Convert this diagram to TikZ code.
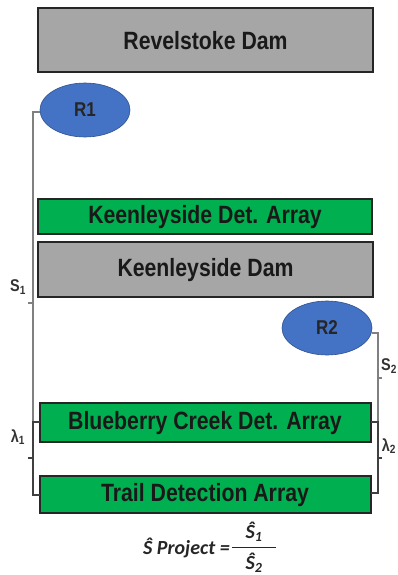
\documentclass[tikz,border=0pt]{standalone}
\usepackage{fontspec}
\setmainfont{Liberation Sans}
\newfontfamily\boxfont{Liberation Sans}[FakeStretch=0.85]
\newfontfamily\eqfont{Carlito}
\usetikzlibrary{shapes.geometric}
\definecolor{damgray}{HTML}{A6A6A6}
\definecolor{arraygreen}{HTML}{00B050}
\definecolor{resblue}{HTML}{4472C4}
\definecolor{resedge}{HTML}{2F528F}
\tikzset{
  dambox/.style={draw=black!85, line width=1.2pt, fill=damgray},
  arraybox/.style={draw=black!85, line width=1.2pt, fill=arraygreen},
  boxtext/.style={font=\boxfont\bfseries\fontsize{25}{27}\selectfont, text=black!90},
  res/.style={ellipse, draw=resedge, line width=0.6pt, fill=resblue, minimum width=90pt, minimum height=54pt, inner sep=0pt, font=\boxfont\bfseries\fontsize{20}{21}\selectfont, text=black!85},
  sbrack/.style={draw=black!50, line width=1.4pt},
  lbrack/.style={draw=black!75, line width=1.4pt},
  blabel/.style={font=\boxfont\bfseries\fontsize{17}{18}\selectfont, text=black!80, inner sep=0pt},
  eqtext/.style={font=\eqfont\bfseries\itshape\fontsize{20}{21}\selectfont, text=black!85, inner sep=0pt}
}
\begin{document}
\begin{tikzpicture}[x=1pt,y=-1pt]
\useasboundingbox (0,0) rectangle (398,575);
% boxes
\draw[dambox] (38,8) rectangle (373,72);
\node[boxtext] (rev) at (205.5,41) {Revelstoke Dam};
\draw[arraybox] (38,199) rectangle (372,234);
\node[boxtext] (kda) at (205,217) {Keenleyside Det. Array};
\draw[dambox] (38,242) rectangle (373,297);
\node[boxtext] (kd) at (205.5,270) {Keenleyside Dam};
\draw[arraybox] (40,403) rectangle (371,442);
\node[boxtext] (bca) at (205,423) {Blueberry Creek Det. Array};
\draw[arraybox] (40,476) rectangle (371,513);
\node[boxtext] (tda) at (205,495) {Trail Detection Array};
% reservoirs
\node[res] (r1) at (85,110) {R1};
\node[res] (r2) at (327,328) {R2};
% coordinates for brackets
\coordinate (s1top) at (40,112);
\coordinate (s1a) at (33,112);
\coordinate (s1b) at (33,422);
\coordinate (s1m) at (33,303);
\coordinate (s1n) at (28,303);
\coordinate (l1top) at (40,422);
\coordinate (l1a) at (33,495);
\coordinate (l1bot) at (40,495);
\coordinate (l1m) at (33,458);
\coordinate (l1n) at (28,458);
\coordinate (s2top) at (372,333);
\coordinate (s2a) at (378,333);
\coordinate (s2b) at (378,422);
\coordinate (s2m) at (378,378);
\coordinate (s2n) at (382,378);
\coordinate (l2top) at (371,422);
\coordinate (l2a) at (378,493);
\coordinate (l2bot) at (371,493);
\coordinate (l2m) at (378,458);
\coordinate (l2n) at (382,458);
% left brackets
\draw[sbrack] (s1top) -- (s1a) -- (s1b);
\draw[sbrack] (s1m) -- (s1n);
\draw[lbrack] (l1top) -- (s1b) -- (l1a) -- (l1bot);
\draw[lbrack] (l1m) -- (l1n);
% right brackets
\draw[sbrack] (s2top) -- (s2a) -- (s2b);
\draw[sbrack] (s2m) -- (s2n);
\draw[lbrack] (l2top) -- (s2b) -- (l2a) -- (l2bot);
\draw[lbrack] (l2m) -- (l2n);
% labels
\node[blabel] (s1lab) at (18,287) {S\textsubscript{1}};
\node[blabel] (l1lab) at (18,437) {λ\textsubscript{1}};
\node[blabel] (s2lab) at (389,366) {S\textsubscript{2}};
\node[blabel] (l2lab) at (389,446) {λ\textsubscript{2}};
% formula
\node[eqtext, anchor=east] (eq) at (230,548) {Ŝ Project =};
\node[eqtext] (num) at (254,532) {Ŝ\textsubscript{1}};
\node[eqtext] (den) at (254,563) {Ŝ\textsubscript{2}};
\coordinate (fl) at (232,547.5);
\coordinate (fr) at (276,547.5);
\draw[line width=1pt, black!85] (fl) -- (fr);
\end{tikzpicture}
\end{document}
